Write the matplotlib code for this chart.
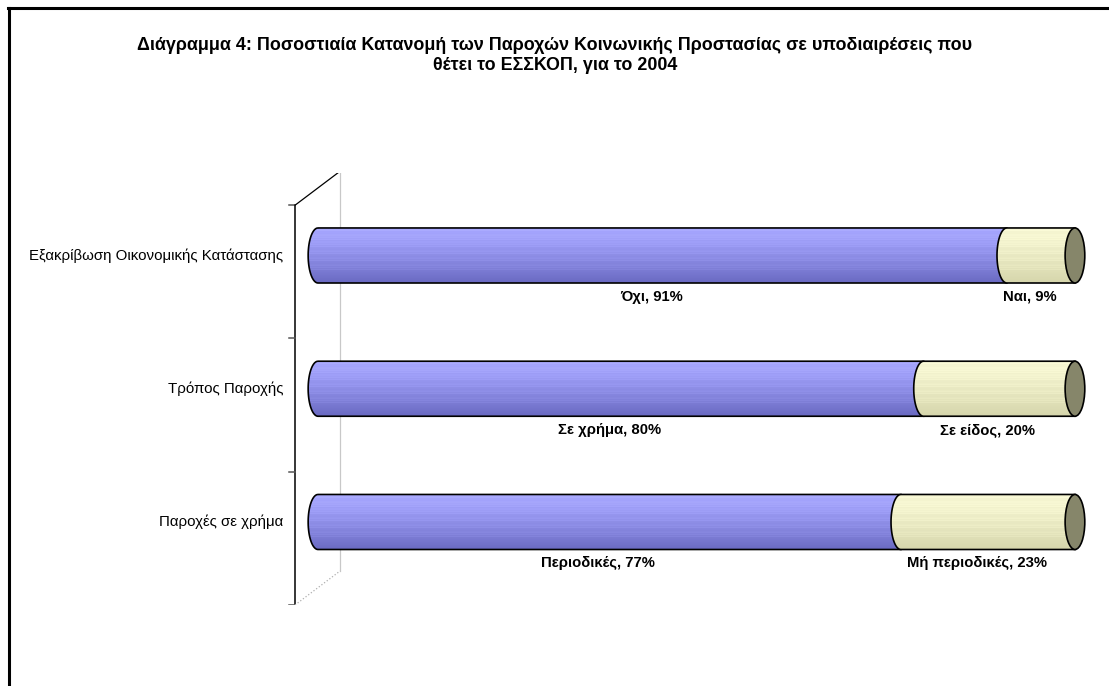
import numpy as np
import matplotlib
matplotlib.use('Agg')
import matplotlib.pyplot as plt
from matplotlib.patches import PathPatch, Ellipse
from matplotlib.path import Path
from matplotlib.lines import Line2D

plt.rcParams['font.family'] = ['Liberation Sans', 'DejaVu Sans']

title_lines = ["Διάγραμμα 4: Ποσοστιαία Κατανομή των Παροχών Κοινωνικής Προστασίας σε υποδιαιρέσεις που",
               "θέτει το ΕΣΣΚΟΠ, για το 2004"]
categories = ["Παροχές σε χρήμα", "Τρόπος Παροχής", "Εξακρίβωση Οικονομικής Κατάστασης"]
first_vals = [77, 80, 91]
second_vals = [23, 20, 9]
first_names = ["Περιοδικές", "Σε χρήμα", "Όχι"]
second_names = ["Μή περιοδικές", "Σε είδος", "Ναι"]

W, H = 1109, 686
fig = plt.figure(figsize=(W / 100, H / 100), dpi=100)
ax = fig.add_axes([242.3 / W, 1 - 605 / H, (1090.1 - 242.3) / W, 432 / H])
ax.set_axis_off()

bar_h = 0.413
cap_a = 1.3   # half width of the cylinder end, in % units


def stripes(top, bottom, n=80):
    t = np.linspace(0, 1, n)[:, None]
    top = np.array(matplotlib.colors.to_rgb(top))
    bottom = np.array(matplotlib.colors.to_rgb(bottom))
    col = top * (1 - t ** 1.3) + bottom * t ** 1.3
    rows = np.arange(n)
    light = ((np.sin(rows * 1.9) > 0.75) & (rows < n * 0.8)).astype(float)[:, None]
    col = col + 0.05 * light
    return np.clip(col, 0, 1)[:, None, :]


def segment(x0, x1, yc, top, bottom, z):
    th = np.linspace(np.pi / 2, 3 * np.pi / 2, 40)
    xs = list(x0 + cap_a * np.cos(th)) + [x1, x1, x0]
    ys = list(yc + bar_h / 2 * np.sin(th)) + [yc - bar_h / 2, yc + bar_h / 2, yc + bar_h / 2]
    path = Path(np.column_stack([xs, ys]))
    patch = PathPatch(path, facecolor='none', edgecolor='black', lw=1.2, zorder=z + 0.5)
    ax.add_patch(patch)
    im = ax.imshow(stripes(top, bottom), extent=[x0 - cap_a, x1, yc - bar_h / 2, yc + bar_h / 2],
                   aspect='auto', origin='upper', zorder=z, interpolation='bilinear')
    im.set_clip_path(patch)


for i, cat in enumerate(categories):
    v1 = first_vals[i]
    v2 = second_vals[i]
    segment(0, v1, i, '#a6a6ff', '#6a6ac2', 2)
    segment(v1, v1 + v2, i, '#f6f6d2', '#d6d6ac', 3)
    ax.add_patch(Ellipse((v1 + v2, i), 2 * cap_a, bar_h, facecolor='#86866a',
                         edgecolor='black', lw=1.2, zorder=4))
    ax.text(v1 / 2 - 1.5, i - bar_h / 2 - 0.05, f"{first_names[i]}, {v1}%",
            ha='center', va='top', fontsize=10.7, fontweight='bold')
    ax.text(v1 + v2 / 2 - 1.5, i - bar_h / 2 - 0.05, f"{second_names[i]}, {v2}%",
            ha='center', va='top', fontsize=10.7, fontweight='bold')
    ax.text(-4.6, i, cat, ha='right', va='center', fontsize=10.8)

# 3D category axis with back wall
front_x = -3.04
depth_x, depth_y = 5.95, 0.255
ticks = np.arange(len(categories) + 1) - 0.623
ax.add_line(Line2D([front_x, front_x], [ticks[0], ticks[-1]], color='black', lw=1.1, zorder=1))
for t in ticks:
    ax.add_line(Line2D([front_x - 0.8, front_x], [t, t], color='#555555', lw=1.1, zorder=1))
ax.add_line(Line2D([front_x, front_x + depth_x], [ticks[-1], ticks[-1] + depth_y],
                   color='black', lw=0.9, zorder=1))
ax.add_line(Line2D([front_x + depth_x] * 2, [ticks[0] + depth_y, ticks[-1] + depth_y],
                   color='#c8c8c8', lw=0.9, zorder=1))
ax.add_line(Line2D([front_x, front_x + depth_x], [ticks[0], ticks[0] + depth_y],
                   color='#b0b0b0', lw=0.9, ls=':', zorder=1))

ax.set_xlim(-10, 102)
ax.set_ylim(-0.623, 2.619)

fig.text(555 / W, 1 - 45 / H, title_lines[0], ha='center', va='center', fontsize=12.9,
         fontweight='bold')
fig.text(555 / W, 1 - 66 / H, title_lines[1], ha='center', va='center', fontsize=12.9,
         fontweight='bold')

# chart frame
fig.add_artist(Line2D([8 / W, 1], [1 - 8 / H, 1 - 8 / H], color='black', lw=2.2))
fig.add_artist(Line2D([9 / W, 9 / W], [0, 1 - 8 / H], color='black', lw=2.2))

fig.savefig('out.png', dpi=100)
